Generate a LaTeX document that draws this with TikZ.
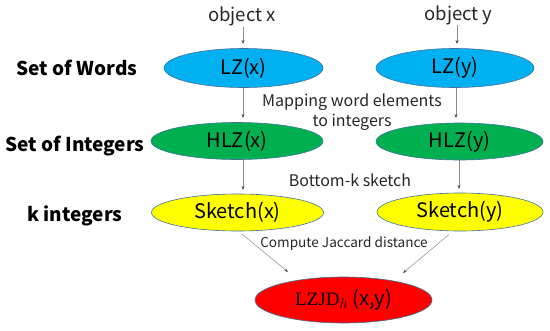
\documentclass[tikz,border=0pt]{standalone}
\usepackage{fontspec}
\setmainfont{Noto Sans CJK JP}
\newfontfamily\lmrom{Liberation Serif}
\usetikzlibrary{shapes.geometric,arrows.meta}
\definecolor{cblue}{HTML}{00B0F0}
\definecolor{cgreen}{HTML}{00B050}
\definecolor{cyellow}{HTML}{FFFF00}
\definecolor{cred}{HTML}{FF0000}
\definecolor{cedge}{HTML}{41719C}
\definecolor{carrow}{HTML}{8C8C8C}
\begin{document}
\begin{tikzpicture}[x=1pt,y=-1pt,
  ell/.style={ellipse,draw=cedge,line width=0.6pt,inner sep=0pt,font=\fontsize{20}{21}\selectfont},
  rowlabel/.style={font=\fontsize{19}{20}\selectfont\bfseries},
  note/.style={font=\fontsize{16}{17}\selectfont,text=black!85},
  objl/.style={font=\fontsize{18.5}{19}\selectfont,text=black!85},
  conn/.style={draw=carrow,line width=0.5pt,-{Stealth[length=4pt,width=3pt,black!70]}}]
\useasboundingbox (0,0) rectangle (550,330);
\node[objl] (ox) at (242,16) {object x};
\node[objl] (oy) at (458.5,15) {object y};
\node[ell,fill=cblue,minimum width=159,minimum height=39] (lzx) at (243.5,68) {LZ(x)};
\node[ell,fill=cblue,minimum width=158,minimum height=39] (lzy) at (455,68) {LZ(y)};
\node[ell,fill=cgreen,minimum width=172,minimum height=37] (hx) at (237,141) {HLZ(x)};
\node[ell,fill=cgreen,minimum width=167,minimum height=37] (hy) at (459.5,141.5) {HLZ(y)};
\node[ell,fill=cyellow,minimum width=172,minimum height=37] (sx) at (237.5,212.5) {Sketch(x)};
\node[ell,fill=cyellow,minimum width=166,minimum height=38] (sy) at (460,212) {Sketch(y)};
\node[ell,fill=cred,minimum width=177,minimum height=46] (jd) at (343.5,300) {{\lmrom\fontsize{19}{21}\selectfont LZJD}$_{h}$\ (x,y)};
\node[rowlabel] (r1) at (77,68) {Set of Words};
\node[rowlabel] (r2) at (75,146) {Set of Integers};
\node[rowlabel] (r3) at (75,216) {k integers};
\node[note] (m1) at (352,102) {Mapping word elements};
\node[note] (m2) at (352,122) {to integers};
\node[note] (bk) at (350,180) {Bottom-k sketch};
\node[note,font=\fontsize{13.6}{14}\selectfont] (cj) at (344,244) {Compute Jaccard distance};
\coordinate (oxe) at (243,44);
\coordinate (oye) at (457,44);
\draw[conn] (243,27) -- (oxe);
\draw[conn] (457,25) -- (oye);
\draw[conn] (243,87.5) -- (243,118);
\draw[conn] (456,87.5) -- (456,118);
\draw[conn] (243,159.5) -- (243,190);
\draw[conn] (459,160) -- (459,189);
\draw[conn] (242,234) -- (288,272);
\draw[conn] (449,234.5) -- (403,273);
\end{tikzpicture}
\end{document}
